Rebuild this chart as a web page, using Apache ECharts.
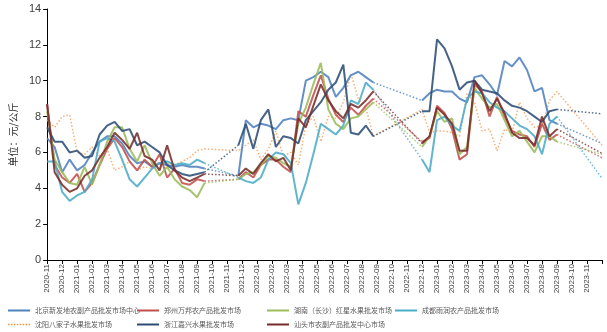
<!DOCTYPE html>
<html>
<head>
<meta charset="utf-8">
<script src="https://cdn.jsdelivr.net/npm/echarts@6/dist/echarts.min.js"></script>
<style>
  html, body { margin: 0; padding: 0; background: #fff; }
  #chart { width: 607px; height: 332px; }
</style>
</head>
<body>
<div id="chart"></div>
<script>
// 月份刻度 (x 轴按月，0 = 2020-11)
const monthLabels = [
  '2020-11', '2020-12',
  '2021-01', '2021-02', '2021-03', '2021-04', '2021-05', '2021-06',
  '2021-07', '2021-08', '2021-09', '2021-10', '2021-11', '2021-12',
  '2022-01', '2022-02', '2022-03', '2022-04', '2022-05', '2022-06',
  '2022-07', '2022-08', '2022-09', '2022-10', '2022-11', '2022-12',
  '2023-01', '2023-02', '2023-03', '2023-04', '2023-05', '2023-06',
  '2023-07', '2023-08', '2023-09', '2023-10', '2023-11'
];

// 三段有数据的时期（起始月份，每半月一个值），之后虚线延伸到 2023-12
const segStarts = [0, 12.75, 25];
const stepMonths = 0.5;
const projMonth = 37;

const beijingA = [6.8, 6.3, 4.9, 5.6, 5.0, 5.3, 6.0, 6.6, 6.9, 6.9, 6.5, 5.8, 5.4, 5.5, 5.2, 5.4, 5.3, 5.2, 5.3, 5.2, 5.2, 5.1];
const beijingB = [4.7, 7.8, 7.4, 7.6, 7.5, 7.3, 7.8, 7.9, 7.8, 10.0, 10.2, 10.5, 10.2, 9.1, 9.6, 10.3, 10.5, 10.2, 9.9];
const beijingC = [8.9, 9.3, 9.5, 9.4, 9.4, 9.0, 8.8, 10.2, 10.3, 9.8, 9.2, 11.1, 10.8, 11.3, 10.6, 9.4, 9.6, 7.8, 7.6];

const zhengzhouA = [8.7, 5.3, 4.6, 4.3, 4.8, 3.8, 4.3, 5.3, 6.2, 6.8, 6.3, 5.5, 5.0, 5.6, 5.2, 5.9, 4.6, 5.1, 4.3, 4.2, 4.5, 4.4];
const zhengzhouB = [4.5, 4.9, 4.6, 5.3, 5.6, 5.6, 5.2, 4.9, 8.3, 8.0, 9.2, 10.3, 9.0, 8.1, 7.7, 8.5, 8.1, 8.6, 9.0];
const zhengzhouC = [6.6, 6.8, 8.6, 8.2, 7.3, 5.6, 5.9, 9.8, 9.4, 8.0, 9.1, 8.0, 7.2, 7.0, 6.9, 6.3, 7.6, 6.7, 7.0];

const hunanA = [8.3, 5.6, 4.9, 4.3, 4.2, 5.2, 4.2, 5.3, 6.6, 7.4, 7.4, 6.2, 5.5, 6.4, 5.4, 4.7, 5.2, 4.5, 4.1, 3.9, 3.5, 4.3];
const hunanB = [4.5, 4.8, 4.9, 5.3, 5.8, 5.7, 5.4, 5.2, 7.6, 8.5, 9.8, 11.0, 8.4, 7.6, 7.3, 7.9, 8.0, 8.4, 8.8];
const hunanC = [6.3, 6.9, 8.3, 7.7, 7.9, 5.9, 6.3, 9.6, 9.0, 8.5, 8.7, 7.8, 6.9, 7.2, 6.6, 6.0, 6.9, 6.9, 6.6];

const chengduA = [5.5, 5.5, 3.8, 3.3, 3.6, 3.8, 4.5, 6.6, 6.8, 6.6, 5.6, 4.5, 4.1, 4.6, 5.1, 5.4, 5.5, 5.3, 5.4, 5.3, 5.6, 5.4];
const chengduB = [4.6, 4.4, 4.3, 4.6, 5.6, 6.0, 5.9, 5.4, 3.1, 4.3, 5.9, 7.6, 7.3, 7.0, 7.5, 8.9, 8.7, 9.9, 9.5];
const chengduC = [5.6, 4.9, 7.8, 8.0, 7.5, 7.2, 9.0, 9.4, 9.3, 8.8, 8.5, 8.3, 7.9, 7.5, 7.3, 6.9, 5.9, 7.6, 8.0];

const shenyangA = [7.8, 7.4, 8.0, 8.1, 6.0, 5.9, 6.3, 5.8, 6.2, 5.0, 5.2, 5.5, 5.0, 5.2, 5.1, 5.5, 5.4, 5.3, 5.5, 5.7, 6.1, 6.2];
const shenyangB = [6.1, 6.4, 6.7, 5.6, 6.2, 7.2, 5.8, 6.0, 5.3, 7.5, 8.0, 6.6, 8.0, 7.9, 8.8, 10.4, 9.0, 8.5, 6.9];
const shenyangC = [8.4, 7.1, 7.2, 7.2, 7.1, 6.9, 9.3, 8.8, 7.2, 7.3, 6.1, 7.3, 7.1, 8.8, 7.9, 7.4, 7.5, 8.9, 9.4];

const zhejiangA = [7.4, 6.6, 6.6, 6.0, 6.1, 5.7, 5.8, 7.0, 7.5, 7.7, 7.2, 7.3, 6.4, 6.6, 6.3, 6.0, 5.3, 5.0, 4.8, 4.7, 4.8, 4.9];
const zhejiangB = [6.4, 7.6, 6.2, 7.8, 8.4, 6.3, 6.9, 6.8, 6.5, 7.8, 8.3, 8.8, 9.5, 9.9, 10.9, 7.1, 7.0, 7.5, 6.9];
const zhejiangC = [8.3, 8.3, 12.3, 11.8, 10.8, 9.5, 9.9, 10.0, 9.5, 9.4, 9.3, 8.9, 8.6, 8.5, 8.3, 8.0, 7.7, 8.3, 8.4];

const shantouA = [8.7, 4.9, 4.2, 3.8, 4.0, 4.7, 5.0, 5.7, 6.3, 7.1, 6.7, 6.2, 7.1, 5.8, 5.6, 5.0, 6.4, 5.0, 4.6, 4.4, 4.6, 4.8];
const shantouB = [4.7, 5.1, 4.8, 5.4, 5.9, 5.5, 5.7, 5.0, 7.9, 7.4, 8.6, 9.8, 8.9, 8.3, 7.9, 8.7, 8.5, 8.9, 9.4];
const shantouC = [6.5, 6.9, 8.5, 8.1, 7.6, 6.1, 6.1, 10.0, 9.3, 8.3, 9.0, 8.2, 7.1, 6.8, 6.8, 6.4, 8.0, 6.9, 7.3];

// 2023-12 处的延伸值
const projEnds = [6.5, 5.7, 5.9, 4.55, 6.4, 8.15, 5.95];

const marketNames = [
  '北京新发地农副产品批发市场中心', '郑州万邦农产品批发市场', '湖南（长沙）红星水果批发市场',
  '成都雨润农产品批发市场', '沈阳八家子水果批发市场', '浙江嘉兴水果批发市场', '汕头市农副产品批发中心市场'
];
const marketSegs = [
  [beijingA, beijingB, beijingC],
  [zhengzhouA, zhengzhouB, zhengzhouC],
  [hunanA, hunanB, hunanC],
  [chengduA, chengduB, chengduC],
  [shenyangA, shenyangB, shenyangC],
  [zhejiangA, zhejiangB, zhejiangC],
  [shantouA, shantouB, shantouC]
];
const colors = ['#4F81BD', '#C0504D', '#9BBB59', '#4BACC6', '#F79646', '#2C4D75', '#772C2A'];
const dottedAll = [false, false, false, false, true, false, false];

function toPoints(values, start) {
  return values.map((v, i) => [start + i * stepMonths, v]);
}

const series = [];
marketNames.forEach((name, idx) => {
  const color = colors[idx];
  const segs = marketSegs[idx].map((vals, s) => toPoints(vals, segStarts[s]));
  const endPt = [projMonth, projEnds[idx]];

  if (dottedAll[idx]) {
    // 沈阳：整条为点线
    series.push({
      name, type: 'line', symbol: 'none', z: 2,
      data: segs.flat().concat([endPt]),
      itemStyle: { color },
      lineStyle: { color, width: 1.5, type: [1.5, 2], opacity: 0.75 }
    });
    return;
  }

  segs.forEach(pts => {
    series.push({
      name, type: 'line', symbol: 'none', z: 3,
      data: pts,
      itemStyle: { color },
      lineStyle: { color, width: 2, opacity: 0.88 }
    });
  });

  // 缺数据时期及之后的点线连接
  const bridges = [
    [segs[0][segs[0].length - 1], segs[1][0]],
    [segs[1][segs[1].length - 1], segs[2][0]],
    [segs[2][segs[2].length - 1], endPt]
  ];
  bridges.forEach(b => {
    series.push({
      name, type: 'line', symbol: 'none', z: 2,
      data: b,
      itemStyle: { color },
      lineStyle: { color, width: 1.5, type: [1.5, 2], opacity: 0.8 }
    });
  });
});

// 图例图标：实线用细矩形，点线用一串小方块
let dotPath = 'path://';
for (let x = 0; x < 22; x += 3) dotPath += `M${x},0h1.6v1.6h-1.6z`;

// 图例按 4 列 2 行排布
const legendPos = [[3, 302], [132, 302], [262, 302], [390, 302], [3, 316], [132, 316], [262, 316]];
const legends = marketNames.map((name, i) => ({
  data: [name],
  left: legendPos[i][0],
  top: legendPos[i][1],
  icon: dottedAll[i] ? dotPath : 'rect',
  itemWidth: 22,
  itemHeight: dottedAll[i] ? 1.6 : 2,
  itemGap: 0,
  textStyle: { fontSize: 7, color: '#595959', fontFamily: 'Noto Sans CJK SC' },
  selectedMode: false
}));

const chart = echarts.init(document.getElementById('chart'));
chart.setOption({
  animation: false,
  backgroundColor: '#fff',
  grid: { left: 33, right: 5, top: 9, bottom: 72 },
  legend: legends,
  xAxis: {
    type: 'value',
    min: 0,
    max: projMonth,
    interval: 1,
    splitLine: { show: false },
    axisLine: { lineStyle: { color: '#000', width: 1 } },
    axisTick: { length: 4, lineStyle: { color: '#000' } },
    axisLabel: {
      rotate: 90,
      fontSize: 8,
      margin: 4,
      color: '#404040',
      fontFamily: 'Liberation Sans',
      formatter: v => monthLabels[v] || ''
    }
  },
  yAxis: {
    type: 'value',
    min: 0,
    max: 14,
    interval: 2,
    name: '单位：元/公斤',
    nameLocation: 'middle',
    nameRotate: 90,
    nameGap: 21,
    nameTextStyle: { fontSize: 10, color: '#333', fontFamily: 'Noto Sans CJK SC' },
    splitLine: { show: false },
    axisLine: { show: true, lineStyle: { color: '#000', width: 1 } },
    axisTick: { show: true, length: 4, lineStyle: { color: '#000' } },
    axisLabel: { fontSize: 11, color: '#404040', margin: 6, fontFamily: 'Liberation Sans' }
  },
  series
});
</script>
</body>
</html>
